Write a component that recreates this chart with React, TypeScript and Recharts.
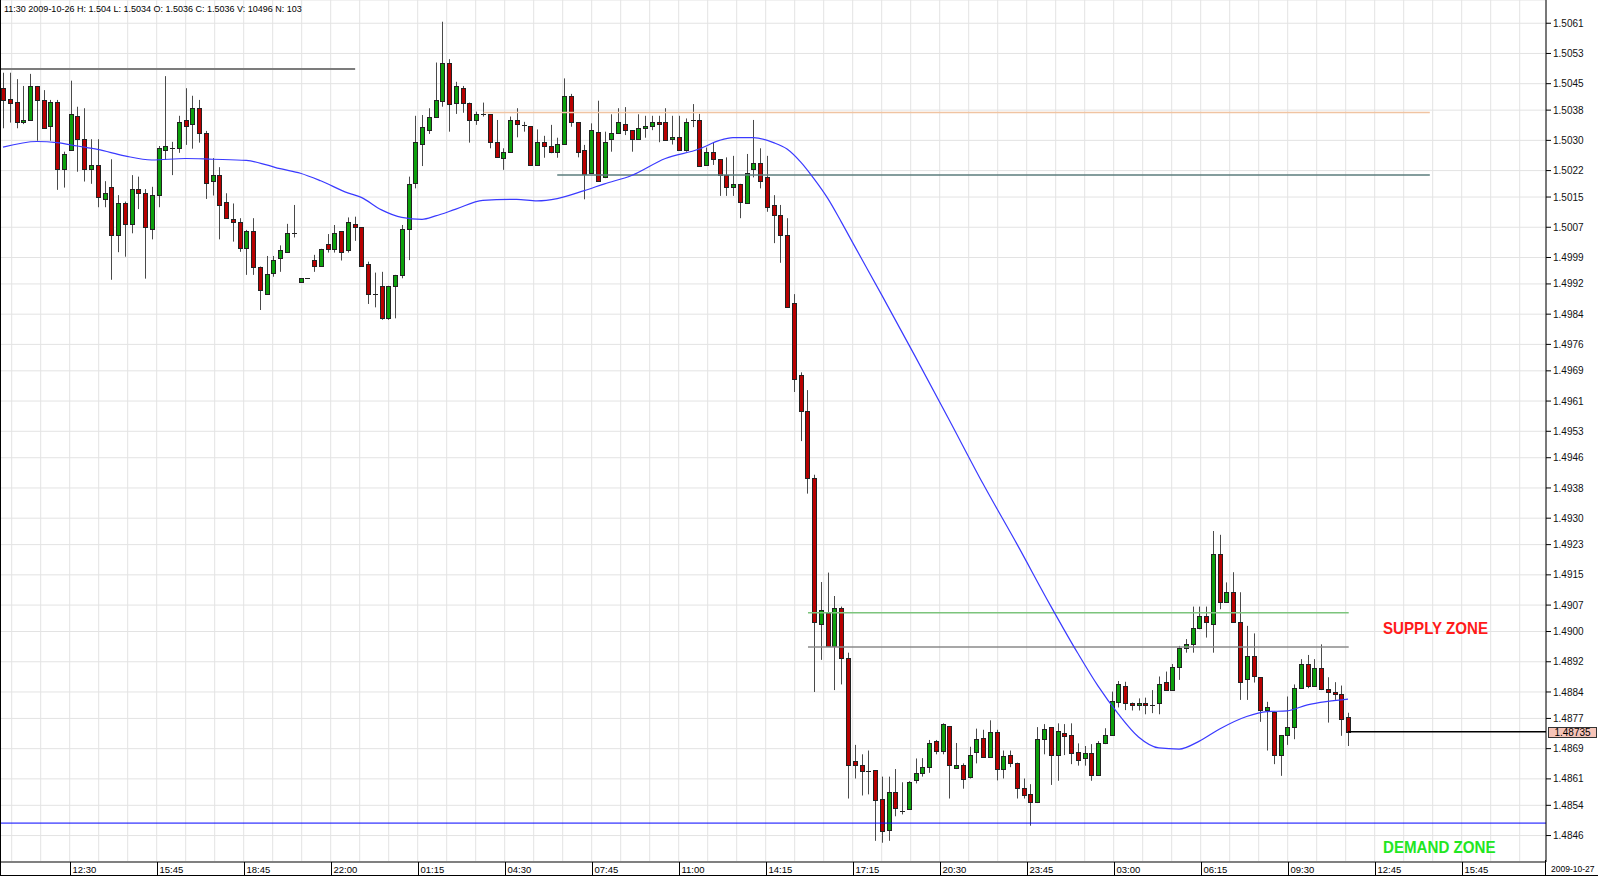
import React from 'react'
import { ComposedChart, Bar, Line, XAxis, YAxis, CartesianGrid, ReferenceLine } from 'recharts'

// --- Data: 15 min bars ---

const OPEN = [
  1.50438, 1.50409, 1.50401, 1.50348, 1.50354, 1.50444, 1.50407, 1.50338, 1.50401, 1.50223,
  1.50275, 1.50365, 1.50303, 1.50223, 1.50234, 1.50144, 1.50176, 1.50050, 1.50133, 1.50078,
  1.50171, 1.50160, 1.50065, 1.50155, 1.50275, 1.50279, 1.50279, 1.50354, 1.50343, 1.50385,
  1.50319, 1.50192, 1.50208, 1.50138, 1.50093, 1.50083, 1.50014, 1.50060, 1.49966, 1.49893,
  1.49950, 1.49988, 1.50004, 1.50056, 1.49926, 1.49937, 1.49983, 1.49968, 1.50025, 1.50013,
  1.50060, 1.50010, 1.50078, 1.50070, 1.49973, 1.49893, 1.49915, 1.49829, 1.49915, 1.49944,
  1.50065, 1.50186, 1.50290, 1.50327, 1.50363, 1.50405, 1.50506, 1.50400, 1.50438, 1.50400,
  1.50354, 1.50369, 1.50369, 1.50295, 1.50254, 1.50268, 1.50354, 1.50340, 1.50338, 1.50235,
  1.50295, 1.50285, 1.50270, 1.50290, 1.50417, 1.50348, 1.50275, 1.50213, 1.50323, 1.50202,
  1.50303, 1.50319, 1.50343, 1.50327, 1.50303, 1.50334, 1.50339, 1.50349, 1.50349, 1.50303,
  1.50308, 1.50275, 1.50354, 1.50354, 1.50235, 1.50270, 1.50250, 1.50208, 1.50176, 1.50185,
  1.50133, 1.50223, 1.50239, 1.50202, 1.50129, 1.50102, 1.50050, 1.49869, 1.49680, 1.49585,
  1.49406, 1.49019, 1.49049, 1.48961, 1.49061, 1.48930, 1.48656, 1.48646, 1.48630, 1.48633,
  1.48556, 1.48474, 1.48574, 1.48526, 1.48531, 1.48606, 1.48626, 1.48641, 1.48710, 1.48685,
  1.48750, 1.48640, 1.48646, 1.48616, 1.48680, 1.48719, 1.48668, 1.48735, 1.48636, 1.48673,
  1.48653, 1.48586, 1.48571, 1.48548, 1.48715, 1.48746, 1.48673, 1.48731, 1.48726, 1.48680,
  1.48666, 1.48679, 1.48620, 1.48704, 1.48726, 1.48814, 1.48856, 1.48812, 1.48806, 1.48812,
  1.48806, 1.48810, 1.48867, 1.48845, 1.48905, 1.48957, 1.48966, 1.49009, 1.49041, 1.49019,
  1.49205, 1.49079, 1.49104, 1.49025, 1.48874, 1.48935, 1.48879, 1.48792, 1.48788, 1.48673,
  1.48726, 1.48747, 1.48850, 1.48914, 1.48856, 1.48904, 1.48847, 1.48841, 1.48835, 1.48775,
]

const HIGH = [
  1.50479, 1.50479, 1.50462, 1.50444, 1.50476, 1.50444, 1.50433, 1.50407, 1.50407, 1.50270,
  1.50458, 1.50389, 1.50385, 1.50303, 1.50303, 1.50192, 1.50250, 1.50155, 1.50138, 1.50208,
  1.50204, 1.50171, 1.50177, 1.50285, 1.50470, 1.50296, 1.50365, 1.50438, 1.50418, 1.50407,
  1.50325, 1.50253, 1.50229, 1.50160, 1.50133, 1.50094, 1.50063, 1.50094, 1.49966, 1.49994,
  1.49994, 1.50022, 1.50079, 1.50129, 1.49935, 1.49937, 1.49997, 1.50013, 1.50052, 1.50076,
  1.50060, 1.50096, 1.50098, 1.50070, 1.49979, 1.49950, 1.49952, 1.49915, 1.49944, 1.50076,
  1.50204, 1.50365, 1.50367, 1.50385, 1.50506, 1.50614, 1.50515, 1.50455, 1.50444, 1.50400,
  1.50376, 1.50400, 1.50369, 1.50354, 1.50279, 1.50363, 1.50385, 1.50349, 1.50338, 1.50329,
  1.50312, 1.50341, 1.50307, 1.50464, 1.50423, 1.50348, 1.50288, 1.50345, 1.50405, 1.50323,
  1.50369, 1.50385, 1.50388, 1.50327, 1.50369, 1.50365, 1.50365, 1.50365, 1.50385, 1.50365,
  1.50365, 1.50358, 1.50396, 1.50370, 1.50281, 1.50295, 1.50250, 1.50255, 1.50259, 1.50185,
  1.50264, 1.50354, 1.50279, 1.50259, 1.50155, 1.50129, 1.50094, 1.49893, 1.49686, 1.49639,
  1.49415, 1.49131, 1.49156, 1.49094, 1.49066, 1.48944, 1.48700, 1.48675, 1.48685, 1.48633,
  1.48616, 1.48616, 1.48636, 1.48601, 1.48604, 1.48664, 1.48665, 1.48713, 1.48713, 1.48757,
  1.48750, 1.48705, 1.48651, 1.48695, 1.48743, 1.48740, 1.48765, 1.48740, 1.48685, 1.48685,
  1.48653, 1.48611, 1.48596, 1.48747, 1.48755, 1.48746, 1.48757, 1.48755, 1.48757, 1.48704,
  1.48697, 1.48702, 1.48710, 1.48744, 1.48841, 1.48869, 1.48867, 1.48812, 1.48823, 1.48825,
  1.48845, 1.48881, 1.48894, 1.48914, 1.48962, 1.48980, 1.49066, 1.49066, 1.49066, 1.49266,
  1.49256, 1.49130, 1.49157, 1.49104, 1.49015, 1.48995, 1.48879, 1.48814, 1.48788, 1.48726,
  1.48828, 1.48860, 1.48927, 1.48938, 1.48927, 1.48966, 1.48879, 1.48866, 1.48857, 1.48785,
]

const LOW = [
  1.50332, 1.50347, 1.50332, 1.50343, 1.50354, 1.50299, 1.50332, 1.50299, 1.50169, 1.50175,
  1.50275, 1.50217, 1.50191, 1.50185, 1.50123, 1.50123, 1.49931, 1.50004, 1.49992, 1.50054,
  1.50118, 1.49934, 1.50038, 1.50123, 1.50248, 1.50208, 1.50267, 1.50288, 1.50278, 1.50294,
  1.50145, 1.50154, 1.50038, 1.50094, 1.50032, 1.50005, 1.49944, 1.49944, 1.49851, 1.49893,
  1.49939, 1.49952, 1.50004, 1.50043, 1.49926, 1.49937, 1.49952, 1.49968, 1.50003, 1.50003,
  1.49982, 1.50003, 1.50034, 1.49968, 1.49867, 1.49858, 1.49825, 1.49825, 1.49829, 1.49935,
  1.49983, 1.50173, 1.50232, 1.50317, 1.50363, 1.50389, 1.50323, 1.50370, 1.50373, 1.50294,
  1.50341, 1.50363, 1.50279, 1.50255, 1.50222, 1.50268, 1.50308, 1.50323, 1.50235, 1.50235,
  1.50254, 1.50266, 1.50254, 1.50290, 1.50336, 1.50255, 1.50144, 1.50211, 1.50193, 1.50200,
  1.50270, 1.50319, 1.50314, 1.50270, 1.50303, 1.50307, 1.50327, 1.50295, 1.50301, 1.50289,
  1.50275, 1.50270, 1.50335, 1.50230, 1.50235, 1.50235, 1.50153, 1.50153, 1.50153, 1.50094,
  1.50133, 1.50202, 1.50173, 1.50111, 1.50028, 1.49976, 1.49858, 1.49634, 1.49504, 1.49365,
  1.48840, 1.48925, 1.48961, 1.48845, 1.48860, 1.48558, 1.48611, 1.48566, 1.48569, 1.48446,
  1.48441, 1.48446, 1.48511, 1.48516, 1.48531, 1.48598, 1.48616, 1.48626, 1.48675, 1.48675,
  1.48558, 1.48636, 1.48584, 1.48611, 1.48651, 1.48668, 1.48668, 1.48606, 1.48611, 1.48641,
  1.48558, 1.48558, 1.48486, 1.48546, 1.48675, 1.48594, 1.48605, 1.48673, 1.48649, 1.48645,
  1.48645, 1.48605, 1.48620, 1.48702, 1.48726, 1.48799, 1.48792, 1.48791, 1.48791, 1.48781,
  1.48784, 1.48781, 1.48845, 1.48845, 1.48872, 1.48944, 1.48944, 1.49006, 1.48984, 1.48944,
  1.49059, 1.49076, 1.49025, 1.48819, 1.48819, 1.48865, 1.48761, 1.48685, 1.48649, 1.48618,
  1.48700, 1.48715, 1.48850, 1.48850, 1.48854, 1.48845, 1.48759, 1.48819, 1.48724, 1.48697,
]

const CLOSE = [
  1.50407, 1.50400, 1.50349, 1.50354, 1.50444, 1.50407, 1.50334, 1.50401, 1.50223, 1.50264,
  1.50369, 1.50303, 1.50223, 1.50234, 1.50149, 1.50160, 1.50050, 1.50133, 1.50078, 1.50171,
  1.50160, 1.50070, 1.50155, 1.50279, 1.50284, 1.50279, 1.50349, 1.50338, 1.50385, 1.50319,
  1.50188, 1.50208, 1.50129, 1.50094, 1.50083, 1.50014, 1.50060, 1.49966, 1.49904, 1.49946,
  1.49983, 1.50010, 1.50056, 1.50056, 1.49935, 1.49937, 1.49968, 1.50013, 1.50013, 1.50054,
  1.50004, 1.50083, 1.50070, 1.49968, 1.49893, 1.49893, 1.49829, 1.49915, 1.49944, 1.50065,
  1.50185, 1.50295, 1.50335, 1.50363, 1.50407, 1.50506, 1.50396, 1.50444, 1.50400, 1.50354,
  1.50370, 1.50369, 1.50296, 1.50255, 1.50268, 1.50354, 1.50343, 1.50340, 1.50235, 1.50295,
  1.50285, 1.50270, 1.50290, 1.50417, 1.50349, 1.50270, 1.50211, 1.50327, 1.50193, 1.50295,
  1.50319, 1.50349, 1.50327, 1.50303, 1.50334, 1.50339, 1.50349, 1.50343, 1.50301, 1.50308,
  1.50275, 1.50349, 1.50354, 1.50232, 1.50270, 1.50250, 1.50208, 1.50176, 1.50185, 1.50138,
  1.50213, 1.50239, 1.50193, 1.50124, 1.50102, 1.50050, 1.49858, 1.49668, 1.49585, 1.49406,
  1.49024, 1.49056, 1.48961, 1.49061, 1.48931, 1.48648, 1.48646, 1.48630, 1.48630, 1.48553,
  1.48471, 1.48574, 1.48534, 1.48526, 1.48601, 1.48626, 1.48641, 1.48705, 1.48685, 1.48755,
  1.48648, 1.48646, 1.48611, 1.48673, 1.48715, 1.48669, 1.48735, 1.48636, 1.48670, 1.48653,
  1.48586, 1.48568, 1.48548, 1.48715, 1.48741, 1.48673, 1.48737, 1.48724, 1.48679, 1.48660,
  1.48679, 1.48620, 1.48704, 1.48726, 1.48816, 1.48861, 1.48810, 1.48806, 1.48812, 1.48806,
  1.48806, 1.48862, 1.48845, 1.48905, 1.48957, 1.48967, 1.49009, 1.49041, 1.49024, 1.49205,
  1.49079, 1.49104, 1.49025, 1.48867, 1.48935, 1.48881, 1.48792, 1.48800, 1.48673, 1.48726,
  1.48747, 1.48850, 1.48914, 1.48856, 1.48904, 1.48847, 1.48839, 1.48835, 1.48768, 1.48735,
]

// moving average, sampled along the blue curve (bar index -> price)
const MA_BAR = [
  0, 5, 8, 11, 14, 18, 22, 27, 31, 36, 39, 41, 44, 47, 51, 53, 56, 59, 62, 64,
  67, 71, 76, 79, 82, 86, 89, 93, 98, 103, 106, 108, 111, 114, 116, 118, 120, 122, 124, 126,
  130, 135, 140, 145, 150, 155, 159, 162, 165, 168, 171, 174, 177, 180, 184, 187, 190, 193, 196, 199,
]
const MA_PRICE = [
  1.50282, 1.50297, 1.50294, 1.50285, 1.50276, 1.50259, 1.50248, 1.50252, 1.50250, 1.50247,
  1.50235, 1.50225, 1.50213, 1.50193, 1.50161, 1.50149, 1.50116, 1.50096, 1.50091, 1.50100,
  1.50118, 1.50141, 1.50144, 1.50140, 1.50146, 1.50167, 1.50185, 1.50207, 1.50252, 1.50277,
  1.50300, 1.50307, 1.50307, 1.50294, 1.50277, 1.50243, 1.50198, 1.50147, 1.50085, 1.50020,
  1.49891, 1.49727, 1.49560, 1.49391, 1.49232, 1.49068, 1.48943, 1.48856, 1.48782, 1.48721,
  1.48692, 1.48689, 1.48710, 1.48742, 1.48775, 1.48788, 1.48790, 1.48806, 1.48815, 1.48821,
]

// drawn horizontal levels: price, first bar, last bar
const LEVEL_PRICE = [1.50489, 1.50374, 1.50208, 1.49050, 1.48959, 1.48493]
const LEVEL_FROM = [-0.44, 71.1, 82, 119.1, 119.1, -0.44]
const LEVEL_TO = [52.1, 211.1, 211.1, 199.1, 199.1, 228.29]
const LEVEL_COLOR = ['#7c7c7c', '#f0c4a2', '#5b7d7d', '#7cc47c', '#8a8a8a', '#0000ff']
const LEVEL_WIDTH = [2, 1.5, 1.5, 1.5, 1.5, 1]

const LAST_PRICE = 1.48735

const PRICE_TICKS = [
  1.5061, 1.5053, 1.5045, 1.5038, 1.5030, 1.5022, 1.5015, 1.5007, 1.4999, 1.4992,
  1.4984, 1.4976, 1.4969, 1.4961, 1.4953, 1.4946, 1.4938, 1.4930, 1.4923, 1.4915,
  1.4907, 1.4900, 1.4892, 1.4884, 1.4877, 1.4869, 1.4861, 1.4854, 1.4846,
]

const TIME_LABELS = [
  '12:30', '15:45', '18:45', '22:00', '01:15', '04:30', '07:45', '11:00', '14:15',
  '17:15', '20:30', '23:45', '03:00', '06:15', '09:30', '12:45', '15:45',
]

// --- Axis setup ---

const X_DOMAIN = [-0.444, 228.29]
const Y_DOMAIN = [1.4839, 1.506715]
const GRID_START = 1.287 // bars
const GRID_STEP = 4.2906 // bars between vertical grid lines, labels every third
const GRID_COUNT = 53
const gridTicks = Array.from({ length: GRID_COUNT }, (_, k) => GRID_START + k * GRID_STEP)

const FONT = '"Liberation Sans", Arial, sans-serif'
const RED = '#b80000'
const GREEN = '#0ca00c'
const OUTLINE = '#222'
const WICK = '#4a4a4a'

const candles = OPEN.map((o, i) => ({
  i,
  o,
  h: HIGH[i],
  l: LOW[i],
  c: CLOSE[i],
  range: [LOW[i], HIGH[i]],
}))

const maData = MA_BAR.map((i, k) => ({ i, ma: MA_PRICE[k] }))

function Candle(props: any) {
  const { x, y, width, height, payload } = props
  if (x == null || y == null || !payload) return null
  const { o, h, l, c } = payload
  let top = y
  let hgt = height || 0
  if (hgt < 0) {
    top = y + hgt
    hgt = -hgt
  }
  const span = h - l
  const toY = (v: number) => (span > 0 ? top + ((h - v) / span) * hgt : top)
  const cx = Math.round(x + width / 2)
  const wx = cx + 0.5
  const bTop = Math.round(toY(Math.max(o, c)))
  const bBot = Math.round(toY(Math.min(o, c)))
  const flat = o === c

  return (
    <g>
      <line x1={wx} x2={wx} y1={toY(h)} y2={toY(l)} stroke={WICK} strokeWidth={1} />
      {flat ? (
        <line x1={cx - 2} x2={cx + 3} y1={bTop + 0.5} y2={bTop + 0.5} stroke={OUTLINE} strokeWidth={1} />
      ) : (
        <rect
          x={cx - 1.5}
          y={bTop + 0.5}
          width={4}
          height={Math.max(bBot - bTop, 1)}
          fill={c > o ? GREEN : RED}
          stroke={OUTLINE}
          strokeWidth={1}
        />
      )}
    </g>
  )
}

function TimeTick(props: any) {
  const { x, y, payload } = props
  const k = Math.round((payload.value - GRID_START) / GRID_STEP)
  if (k % 3 !== 2) return null
  const label = TIME_LABELS[(k - 2) / 3]
  if (!label) return null
  const lx = Math.round(x) + 0.5
  return (
    <g>
      <line x1={lx} x2={lx} y1={y} y2={y + 14} stroke="#000" strokeWidth={1} />
      <text x={lx + 2} y={y + 11} fontSize={9.5} fontFamily={FONT} fill="#000">
        {label}
      </text>
    </g>
  )
}

function PriceBadge(props: any) {
  const { viewBox } = props
  if (!viewBox) return null
  const x = viewBox.x + viewBox.width
  const y = viewBox.y
  return (
    <g>
      <rect x={x + 2.5} y={Math.round(y) - 4.5} width={48} height={10} fill="#f6c4b8" stroke="#333" strokeWidth={1} />
      <text x={x + 26.5} y={Math.round(y) + 4} textAnchor="middle" fontSize={10} fontFamily={FONT} fill="#000">
        {LAST_PRICE.toFixed(5)}
      </text>
    </g>
  )
}

export default function App() {
  return (
    <div
      style={{
        position: 'absolute',
        left: 0,
        top: 0,
        width: 1598,
        height: 876,
        background: '#fff',
        overflow: 'hidden',
        fontFamily: FONT,
      }}
    >
      <ComposedChart
        width={1598}
        height={876}
        data={candles}
        margin={{ top: 0, right: 0, bottom: 0, left: 0 }}
      >
        <CartesianGrid stroke="#e3e3e3" strokeWidth={1} />
        <XAxis
          type="number"
          dataKey="i"
          domain={X_DOMAIN}
          allowDataOverflow
          ticks={gridTicks}
          interval={0}
          tick={<TimeTick />}
          tickLine={false}
          tickSize={0}
          tickMargin={0}
          height={14}
          axisLine={{ stroke: '#808080', strokeWidth: 2 }}
        />
        <YAxis
          orientation="right"
          domain={Y_DOMAIN}
          allowDataOverflow
          ticks={PRICE_TICKS}
          interval={0}
          tickFormatter={(v: number) => v.toFixed(4)}
          width={52}
          tickSize={5}
          tickMargin={2}
          tick={{ fontSize: 10, fill: '#111', fontFamily: FONT }}
          tickLine={{ stroke: '#000' }}
          axisLine={{ stroke: '#000' }}
        />
        {LEVEL_PRICE.map((p, k) => (
          <ReferenceLine
            key={k}
            segment={[
              { x: LEVEL_FROM[k], y: p },
              { x: LEVEL_TO[k], y: p },
            ]}
            stroke={LEVEL_COLOR[k]}
            strokeWidth={LEVEL_WIDTH[k]}
            ifOverflow="visible"
          />
        ))}
        <ReferenceLine
          segment={[
            { x: candles.length - 1, y: LAST_PRICE },
            { x: X_DOMAIN[1], y: LAST_PRICE },
          ]}
          stroke="#000"
          strokeWidth={1.5}
          ifOverflow="visible"
          label={<PriceBadge />}
        />
        <Line
          data={maData}
          dataKey="ma"
          type="monotone"
          stroke="#3a3aff"
          strokeWidth={1.2}
          dot={false}
          activeDot={false}
          isAnimationActive={false}
        />
        <Bar dataKey="range" barSize={5} shape={<Candle />} isAnimationActive={false} />
      </ComposedChart>

      {/* frame */}
      <div style={{ position: 'absolute', left: 0, top: 0, width: 1, height: 876, background: '#000' }} />
      <div style={{ position: 'absolute', left: 0, top: 875, width: 1598, height: 1, background: '#000' }} />
      <div style={{ position: 'absolute', left: 1545, top: 860, width: 1, height: 16, background: '#000' }} />

      <div
        style={{
          position: 'absolute',
          left: 4,
          top: 4,
          fontSize: 9,
          lineHeight: '11px',
          color: '#000',
          whiteSpace: 'nowrap',
        }}
      >
        11:30 2009-10-26 H: 1.504 L: 1.5034 O: 1.5036 C: 1.5036 V: 10496 N: 103
      </div>

      <div
        style={{
          position: 'absolute',
          left: 1383,
          top: 619,
          fontSize: 17,
          fontWeight: 'bold',
          color: '#ff1a1a',
          whiteSpace: 'nowrap',
          transform: 'scaleX(0.89)',
          transformOrigin: 'left top',
          lineHeight: '20px',
        }}
      >
        SUPPLY ZONE
      </div>
      <div
        style={{
          position: 'absolute',
          left: 1383,
          top: 838,
          fontSize: 17,
          fontWeight: 'bold',
          color: '#22e622',
          whiteSpace: 'nowrap',
          transform: 'scaleX(0.89)',
          transformOrigin: 'left top',
          lineHeight: '20px',
        }}
      >
        DEMAND ZONE
      </div>
      <div
        style={{
          position: 'absolute',
          left: 1551,
          top: 864,
          fontSize: 8.5,
          lineHeight: '11px',
          color: '#000',
          whiteSpace: 'nowrap',
        }}
      >
        2009-10-27
      </div>
    </div>
  )
}
